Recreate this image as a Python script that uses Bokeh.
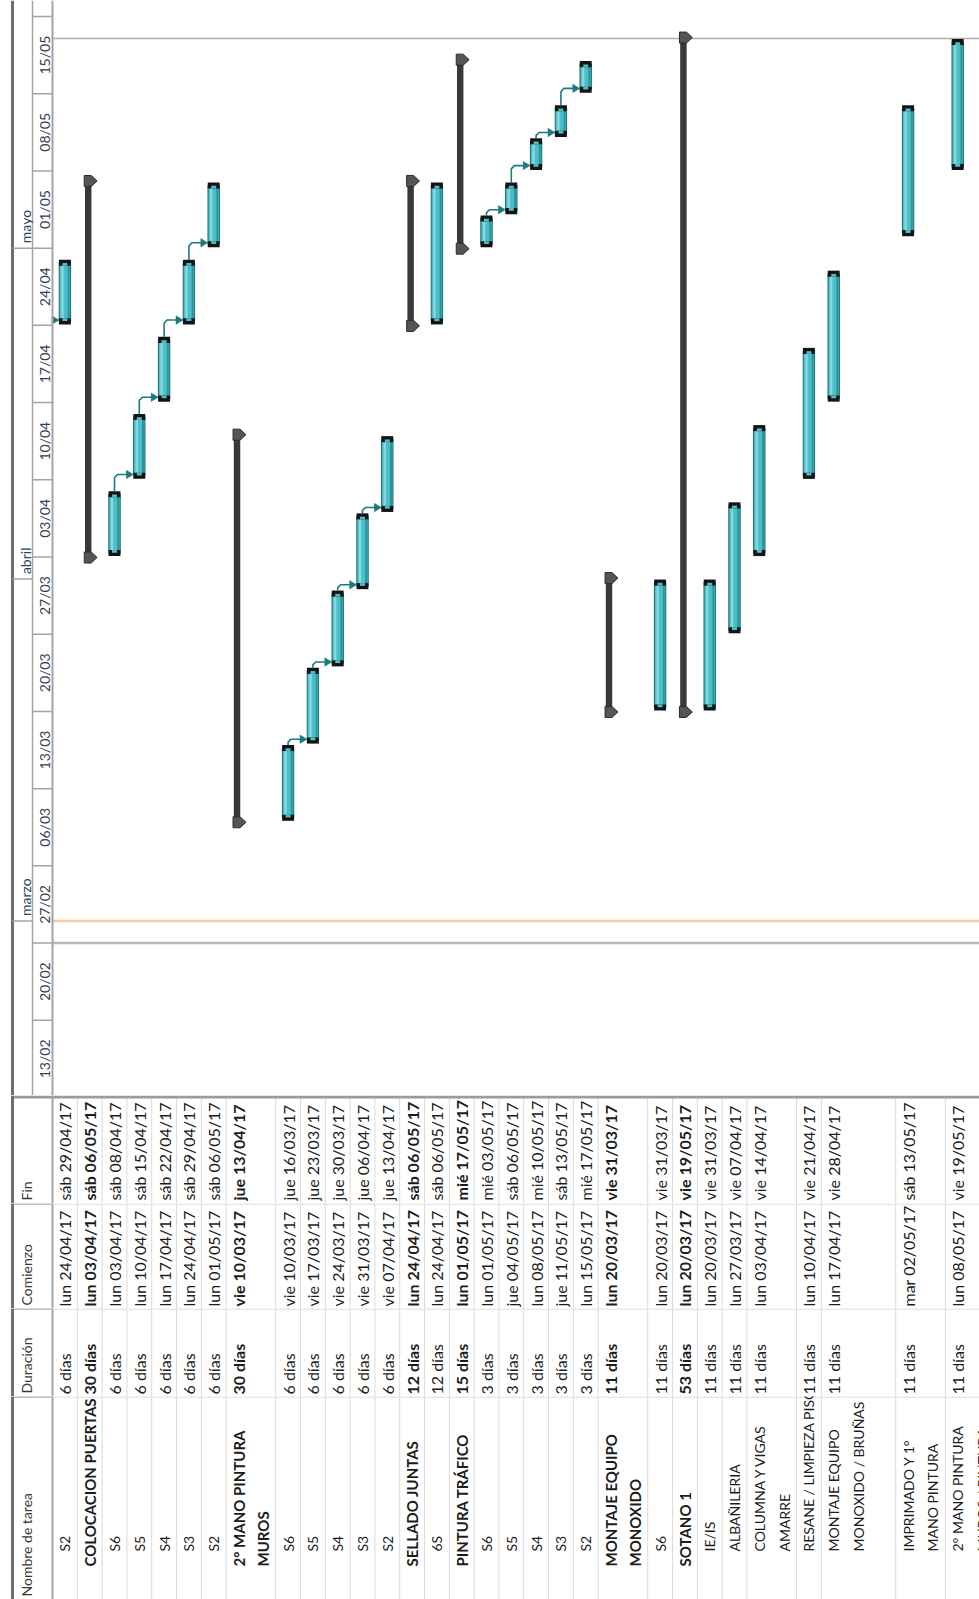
from datetime import datetime, timedelta
import math
from bokeh.plotting import figure
from bokeh.layouts import column
from bokeh.models import Range1d
from bokeh.embed import file_html
from bokeh.resources import INLINE
from bokeh.core.properties import value

# ---------------- data ----------------
task_names = [
    "S2", "COLOCACION PUERTAS", "S6", "S5", "S4", "S3", "S2",
    "2° MANO PINTURA\nMUROS", "S6", "S5", "S4", "S3", "S2",
    "SELLADO JUNTAS", "6S",
    "PINTURA TRÁFICO", "S6", "S5", "S4", "S3", "S2",
    "MONTAJE EQUIPO\nMONOXIDO", "S6",
    "SOTANO 1", "IE/IS", "ALBAÑILERIA", "COLUMNA Y VIGAS\nAMARRE",
    "RESANE / LIMPIEZA PISOS", "MONTAJE EQUIPO\nMONOXIDO / BRUÑAS",
    "IMPRIMADO Y 1°\nMANO PINTURA", "2° MANO PINTURA\nMUROS / PINTURA",
]
task_levels = [3, 2, 3, 3, 3, 3, 3,
               2, 3, 3, 3, 3, 3,
               2, 3,
               2, 3, 3, 3, 3, 3,
               2, 3,
               2, 3, 3, 3, 3, 3, 3, 3]
task_durations = [6, 30, 6, 6, 6, 6, 6,
                  30, 6, 6, 6, 6, 6,
                  12, 12,
                  15, 3, 3, 3, 3, 3,
                  11, 11,
                  53, 11, 11, 11, 11, 11, 11, 11]
task_starts = [
    "2017-04-24", "2017-04-03", "2017-04-03", "2017-04-10", "2017-04-17", "2017-04-24", "2017-05-01",
    "2017-03-10", "2017-03-10", "2017-03-17", "2017-03-24", "2017-03-31", "2017-04-07",
    "2017-04-24", "2017-04-24",
    "2017-05-01", "2017-05-01", "2017-05-04", "2017-05-08", "2017-05-11", "2017-05-15",
    "2017-03-20", "2017-03-20",
    "2017-03-20", "2017-03-20", "2017-03-27", "2017-04-03", "2017-04-10", "2017-04-17",
    "2017-05-02", "2017-05-08",
]
task_finishes = [
    "2017-04-29", "2017-05-06", "2017-04-08", "2017-04-15", "2017-04-22", "2017-04-29", "2017-05-06",
    "2017-04-13", "2017-03-16", "2017-03-23", "2017-03-30", "2017-04-06", "2017-04-13",
    "2017-05-06", "2017-05-06",
    "2017-05-17", "2017-05-03", "2017-05-06", "2017-05-10", "2017-05-13", "2017-05-17",
    "2017-03-31", "2017-03-31",
    "2017-05-19", "2017-03-31", "2017-04-07", "2017-04-14", "2017-04-21", "2017-04-28",
    "2017-05-13", "2017-05-19",
]
links = [(2, 3), (3, 4), (4, 5), (5, 6),
         (8, 9), (9, 10), (10, 11), (11, 12),
         (16, 17), (17, 18), (18, 19), (19, 20)]
external_links = [0]
week_labels = ["13/02", "20/02", "27/02", "06/03", "13/03", "20/03", "27/03",
               "03/04", "10/04", "17/04", "24/04", "01/05", "08/05", "15/05"]
month_labels = ["marzo", "abril", "mayo"]
month_starts = ["2017-03-01", "2017-04-01", "2017-05-01"]
column_headers = ["Fin", "Comienzo", "Duración", "Nombre de tarea"]
project_start = "2017-02-27"
current_date = "2017-03-01"
project_finish = "2017-05-20"
YEAR = 2017

# ---------------- layout helpers ----------------
row_span = [1] * 7 + [2] + [1] * 13 + [2] + [1] * 4 + [2, 1, 3, 2, 2]
N = len(task_names)
ROW_PX = 24.8
W = 979


def ux(px):
    return (px - 52.0) / ROW_PX


EPOCH = datetime(1970, 1, 1)
DAY = 86400000.0


def ms(s, h=0.0):
    return ((datetime.strptime(s, "%Y-%m-%d") - EPOCH).total_seconds() + h * 3600.0) * 1000.0


WD = ["lun", "mar", "mié", "jue", "vie", "sáb", "dom"]


def fmt(s):
    d = datetime.strptime(s, "%Y-%m-%d")
    return f"{WD[d.weekday()]} {d:%d/%m/%y}"


row_top = []
acc = 0
for s in row_span:
    row_top.append(acc)
    acc += s
xc = [t + 0.5 for t in row_top]
is_sum = [lv == 2 for lv in task_levels]
t0 = [ms(s, 8) for s in task_starts]
t1 = [ms(f, 17) for f in task_finishes]

XR = Range1d(ux(0), ux(W))
XL, XM, XMAX = ux(12), ux(32), ux(W)
FONT = value("Lato")
LINE = "#a4a4a4"
TEAL = "#1d7880"
HDR_TXT = "#2f4156"


def mkfig(h, yr):
    p = figure(width=W, height=h, x_range=XR, y_range=yr,
               output_backend="svg", toolbar_location=None,
               x_axis_location=None, y_axis_location=None, min_border=0)
    p.grid.visible = False
    p.outline_line_color = None
    p.background_fill_color = "white"
    p.border_fill_color = "white"
    return p


# ---------------- Gantt ----------------
G_H = 1095
GYR = Range1d(ms("2017-02-13", 4.35), ms("2017-05-23", 10.8))
g = mkfig(G_H, GYR)

# reference lines
for d, col, w in ((project_start, "#b6b6b6", 2.5), (current_date, "#f9c8a2", 2.5),
                  (project_finish, "#acacac", 1.5)):
    g.segment(x0=[0], x1=[XMAX], y0=[ms(d)], y1=[ms(d)], line_color=col, line_width=w)

# summary bars
si = [i for i in range(N) if is_sum[i]]
g.vbar(x=[xc[i] - 0.06 for i in si], width=0.26,
       bottom=[t0[i] for i in si], top=[t1[i] for i in si],
       fill_color="#383838", line_color=None)
cxs, cys = [], []
for i in si:
    for c in (t1[i] + 0.38 * DAY, t0[i] - 0.38 * DAY):
        xl, xm, xt = xc[i] - 0.22, xc[i] + 0.06, xc[i] + 0.30
        hh = 0.5 * DAY
        cxs.append([xl, xm, xt, xm, xl])
        cys.append([c - hh, c - hh, c, c + hh, c + hh])
g.patches(cxs, cys, fill_color="#555555", line_color="#2c2c2c", line_width=1)

# task bars
ti = [i for i in range(N) if not is_sum[i]]
bx = [xc[i] for i in ti]
bb = [t0[i] for i in ti]
bt = [t1[i] for i in ti]
g.vbar(x=bx, width=0.46, bottom=bb, top=bt, fill_color="#4bbec8",
       line_color="#1f6b72", line_width=1)
g.vbar(x=[x - 0.1 for x in bx], width=0.1, bottom=bb, top=bt,
       fill_color="#84d8de", line_color=None)
g.vbar(x=[x + 0.15 for x in bx], width=0.08, bottom=bb, top=bt,
       fill_color="#2a959d", line_color=None)
# end caps
g.vbar(x=bx, width=0.48, bottom=[t - 0.3 * DAY for t in bt], top=[t + 0.25 * DAY for t in bt],
       fill_color="#141414", line_color=None)
g.vbar(x=bx, width=0.48, bottom=[b - 0.25 * DAY for b in bb], top=[b + 0.3 * DAY for b in bb],
       fill_color="#141414", line_color=None)
g.vbar(x=bx, width=0.2, bottom=[t - 0.3 * DAY for t in bt], top=[t - 0.05 * DAY for t in bt],
       fill_color="#4bbec8", line_color=None)
g.vbar(x=bx, width=0.2, bottom=[b + 0.05 * DAY for b in bb], top=[b + 0.3 * DAY for b in bb],
       fill_color="#4bbec8", line_color=None)

# links
lx, ly, axs, ays = [], [], [], []
for p_, s_ in links:
    xp = xc[p_]
    y0 = t1[p_] + 0.25 * DAY
    y1 = t0[s_] + 0.15 * DAY
    xtip = xc[s_] - 0.24
    r = min(0.3 * DAY, (y1 - y0) * 0.5)
    lx.append([xp, xp, xp + 0.12, xtip - 0.2])
    ly.append([y0, y1 - r, y1, y1])
for s_ in [b for a, b in links] + external_links:
    y1 = t0[s_] + 0.15 * DAY
    xtip = xc[s_] - 0.24
    axs.append([xtip, xtip - 0.28, xtip - 0.28])
    ays.append([y1, y1 - 0.38 * DAY, y1 + 0.38 * DAY])
g.multi_line(lx, ly, line_color=TEAL, line_width=1.6)
g.patches(axs, ays, fill_color=TEAL, line_color=TEAL, line_width=0.5)

# timescale header
g.segment(x0=[XL], x1=[XL], y0=[GYR.start], y1=[GYR.end], line_color="#6e6e6e", line_width=3)
g.segment(x0=[XM], x1=[XM], y0=[GYR.start], y1=[GYR.end], line_color=LINE, line_width=1.5)
g.segment(x0=[0], x1=[0], y0=[GYR.start], y1=[GYR.end], line_color=LINE, line_width=2)
mondays = [ms(f"{YEAR}-{lab[3:5]}-{lab[0:2]}") for lab in week_labels]
edges = mondays + [mondays[-1] + 7 * DAY]
g.segment(x0=[XM] * len(edges), x1=[0] * len(edges), y0=edges, y1=edges,
          line_color=LINE, line_width=1.5)
g.text(x=[ux(44)] * len(mondays), y=[m + 3.5 * DAY for m in mondays], text=week_labels,
       angle=math.pi / 2, text_align="center", text_baseline="middle",
       text_font=FONT, text_font_size="14px", text_color=HDR_TXT)
mst = [ms(m) for m in month_starts]
g.segment(x0=[XL] * len(mst), x1=[XM] * len(mst), y0=mst, y1=mst, line_color=LINE, line_width=1.5)
g.text(x=[ux(25)] * len(mst), y=[m + 0.45 * DAY for m in mst], text=month_labels,
       angle=math.pi / 2, text_align="left", text_baseline="middle",
       text_font=FONT, text_font_size="14px", text_color=HDR_TXT)

# ---------------- table ----------------
bounds = [row_top[i] for i in range(1, N)] + [row_top[-1] + row_span[-1]]


def table_fig(h, header, header_y, cells, size_reg, size_bold, first):
    p = mkfig(h, Range1d(0, h))
    p.segment(x0=bounds, x1=bounds, y0=[0] * len(bounds), y1=[h] * len(bounds),
              line_color="#dadada", line_width=1)
    if first:
        p.segment(x0=[XL], x1=[XMAX], y0=[h - 1.5], y1=[h - 1.5], line_color="#9c9c9c", line_width=3)
    else:
        p.segment(x0=[0], x1=[XMAX], y0=[h - 0.5], y1=[h - 0.5], line_color="#d2d2d2", line_width=1)
        p.segment(x0=[XL], x1=[0], y0=[h - 0.5], y1=[h - 0.5], line_color=LINE, line_width=1.5)
    p.segment(x0=[XL], x1=[XL], y0=[0], y1=[h], line_color="#6e6e6e", line_width=3)
    p.segment(x0=[0], x1=[0], y0=[0], y1=[h], line_color=LINE, line_width=2)
    p.text(x=[ux(26)], y=[header_y], text=[header], angle=math.pi / 2,
           text_align="left", text_baseline="middle", text_font=FONT,
           text_font_size="14px", text_color="#3a3a3a")
    for bold in (False, True):
        sel = [c for c in cells if c[3] == bold]
        if not sel:
            continue
        p.text(x=[c[0] for c in sel], y=[c[1] for c in sel], text=[c[2] for c in sel],
               angle=math.pi / 2, text_align="left", text_baseline="middle",
               text_font=FONT, text_font_size=size_bold if bold else size_reg,
               text_font_style="bold" if bold else "normal", text_color="#1c1c1c")
    return p


NOM_H = 203
fin_cells = [(xc[i], 3, fmt(task_finishes[i]), is_sum[i]) for i in range(N)]
com_cells = [(xc[i], 2, fmt(task_starts[i]), is_sum[i]) for i in range(N)]
dur_cells = [(xc[i], 2, f"{task_durations[i]} días", is_sum[i]) for i in range(N)]
name_cells = []
for i in range(N):
    for k, line in enumerate(task_names[i].split("\n")):
        name_cells.append((xc[i] + k, 33 if is_sum[i] else 48, line, is_sum[i]))

f_fin = table_fig(108, column_headers[0], 3, fin_cells, "16px", "16px", True)
f_com = table_fig(105, column_headers[1], 3, com_cells, "16px", "16px", False)
f_dur = table_fig(88, column_headers[2], 3, dur_cells, "16px", "16px", False)
f_nom = table_fig(NOM_H, column_headers[3], 3, name_cells, "14px", "15px", False)

layout = column(g, f_fin, f_com, f_dur, f_nom, spacing=0)
open("out.html", "w").write(file_html(layout, INLINE))
